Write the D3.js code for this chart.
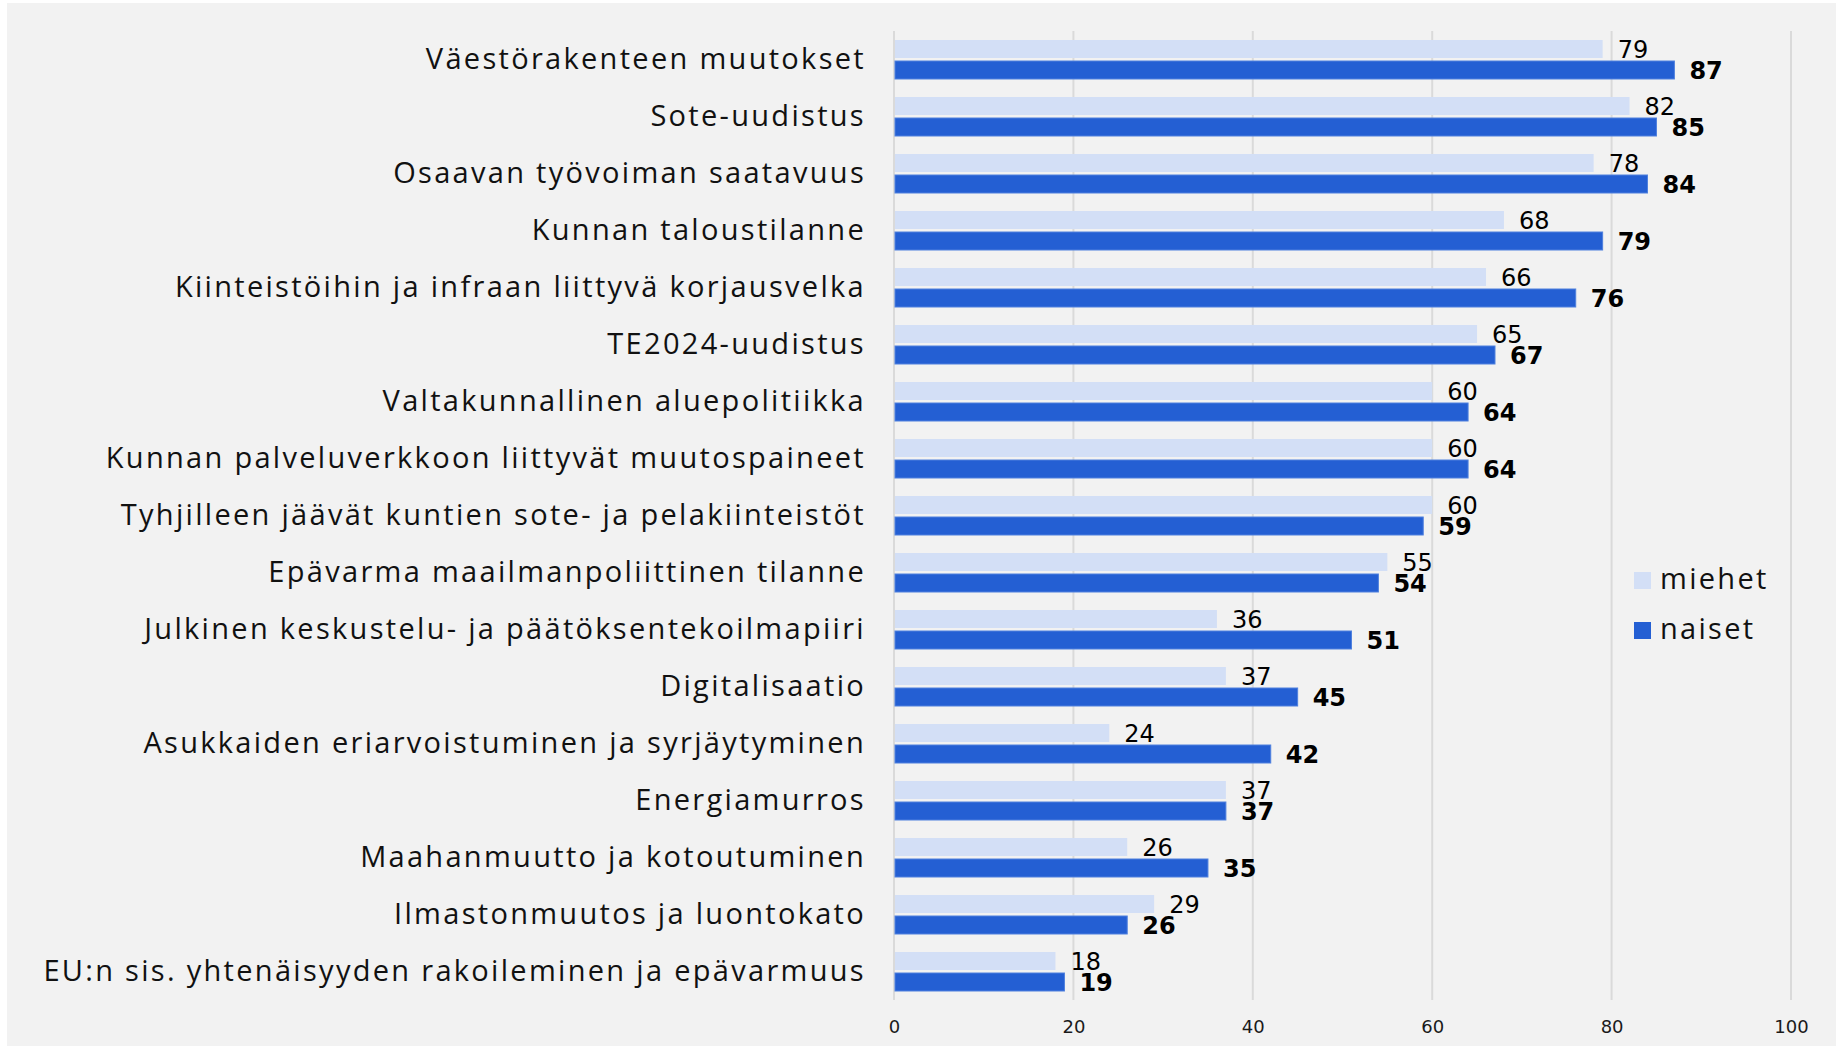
<!DOCTYPE html>
<html>
<head>
<meta charset="utf-8">
<script src="https://cdn.jsdelivr.net/npm/d3@7"></script>
<style>
  html, body { margin: 0; padding: 0; background: #ffffff; }
  svg { display: block; }
</style>
</head>
<body>
<script>
// Chart data
const categories = [
  'Väestörakenteen muutokset',
  'Sote-uudistus',
  'Osaavan työvoiman saatavuus',
  'Kunnan taloustilanne',
  'Kiinteistöihin ja infraan liittyvä korjausvelka',
  'TE2024-uudistus',
  'Valtakunnallinen aluepolitiikka',
  'Kunnan palveluverkkoon liittyvät muutospaineet',
  'Tyhjilleen jäävät kuntien sote- ja pelakiinteistöt',
  'Epävarma maailmanpoliittinen tilanne',
  'Julkinen keskustelu- ja päätöksentekoilmapiiri',
  'Digitalisaatio',
  'Asukkaiden eriarvoistuminen ja syrjäytyminen',
  'Energiamurros',
  'Maahanmuutto ja kotoutuminen',
  'Ilmastonmuutos ja luontokato',
  'EU:n sis. yhtenäisyyden rakoileminen ja epävarmuus'
];
const miehet = [79, 82, 78, 68, 66, 65, 60, 60, 60, 55, 36, 37, 24, 37, 26, 29, 18];
const naiset = [87, 85, 84, 79, 76, 67, 64, 64, 59, 54, 51, 45, 42, 37, 35, 26, 19];
const seriesNames = ['miehet', 'naiset'];
const xTicks = [0, 20, 40, 60, 80, 100];

(function() {

  const width = 1836, height = 1046;
  const colors = { miehet: '#d3dff6', naiset: '#245fd3' };
  const labelFont = '"Open Sans", sans-serif';
  const numFont = '"DejaVu Sans", sans-serif';

  const svg = d3.select('body').append('svg')
    .attr('width', width)
    .attr('height', height);

  // gray panel, with a thin white margin top/left
  svg.append('rect')
    .attr('x', 7).attr('y', 3)
    .attr('width', width - 7).attr('height', height - 3)
    .attr('fill', '#f2f2f2');

  // Scales
  const x = d3.scaleLinear().domain([0, 100]).range([894, 1791]);
  const y = d3.scaleBand().domain(categories).range([31, 1000]);
  const ySub = d3.scaleBand().domain(seriesNames)
    .range([9, y.bandwidth() - 9])
    .paddingInner(0.143);

  // Gridlines
  svg.append('g').selectAll('line')
    .data(xTicks)
    .join('line')
    .attr('x1', d => x(d)).attr('x2', d => x(d))
    .attr('y1', 31).attr('y2', 1000)
    .attr('stroke', '#dadada')
    .attr('stroke-width', 2);

  // X axis tick labels
  const xAxis = d3.axisBottom(x).tickValues(xTicks).tickSize(0).tickPadding(0);
  svg.append('g')
    .attr('transform', 'translate(0,1033)')
    .call(xAxis)
    .call(g => g.select('.domain').remove())
    .call(g => g.selectAll('text')
      .attr('dy', 0)
      .attr('font-family', numFont)
      .attr('font-size', 18)
      .attr('fill', '#1a1a1a'));

  // Category labels (spaced out to match the wide original face)
  const yAxis = d3.axisLeft(y).tickSize(0).tickPadding(0);
  svg.append('g')
    .attr('transform', 'translate(866,0)')
    .call(yAxis)
    .call(g => g.select('.domain').remove())
    .call(g => g.selectAll('text')
      .attr('font-family', labelFont)
      .attr('font-size', 29)
      .attr('letter-spacing', 2.3)
      .attr('fill', '#111'));

  // Flatten rows for bars
  const rows = [];
  categories.forEach((c, i) => {
    rows.push({ cat: c, key: 'miehet', value: miehet[i] });
    rows.push({ cat: c, key: 'naiset', value: naiset[i] });
  });

  const bars = svg.append('g');
  bars.selectAll('rect')
    .data(rows)
    .join('rect')
    .attr('x', x(0) + 1)
    .attr('y', d => y(d.cat) + ySub(d.key))
    .attr('width', d => x(d.value) - x(0) - 1)
    .attr('height', ySub.bandwidth())
    .attr('fill', d => colors[d.key])
    .attr('stroke', d => d.key === 'naiset' ? '#4f80de' : 'none')
    .attr('stroke-width', 1);

  // Value labels
  bars.selectAll('text')
    .data(rows)
    .join('text')
    .attr('x', d => x(d.value) + 15)
    .attr('y', d => y(d.cat) + ySub(d.key) + ySub.bandwidth() / 2 + 1)
    .attr('dominant-baseline', 'central')
    .attr('font-family', numFont)
    .attr('font-size', 24)
    .attr('font-weight', d => d.key === 'naiset' ? 'bold' : 'normal')
    .attr('fill', '#000')
    .text(d => d.value);

  // Legend
  const legend = svg.append('g')
    .selectAll('g')
    .data(seriesNames)
    .join('g')
    .attr('transform', (d, i) => `translate(1634,${572 + i * 50})`);
  legend.append('rect')
    .attr('width', 17).attr('height', 17)
    .attr('fill', d => colors[d]);
  legend.append('text')
    .attr('x', 26).attr('y', 17)
    .attr('font-family', labelFont)
    .attr('font-size', 29)
    .attr('letter-spacing', 2.3)
    .attr('fill', '#111')
    .text(d => d);

})();
</script>
</body>
</html>
